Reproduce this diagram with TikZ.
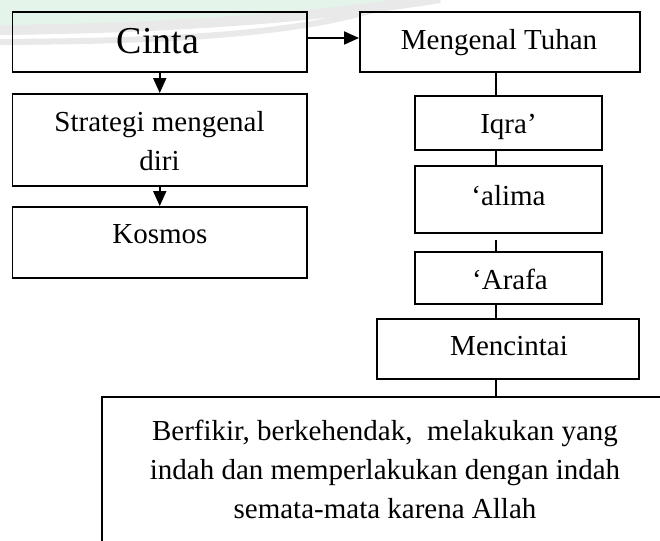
\documentclass[tikz,border=0pt]{standalone}
\usepackage{fontspec}
\setmainfont{Liberation Serif}
\usetikzlibrary{arrows.meta}
\definecolor{markgreen}{RGB}{228,244,234}
\definecolor{markgrey}{RGB}{233,233,233}
\begin{document}
\begin{tikzpicture}[x=1pt,y=-1pt,
  box/.style={draw,line width=1.9pt,rectangle,inner sep=0pt},
  lbl/.style={anchor=base,inner sep=0pt,align=center,font=\fontsize{29}{39}\selectfont},
  biglbl/.style={anchor=base,inner sep=0pt,font=\fontsize{38}{46}\selectfont},
  link/.style={line width=1.8pt},
  flow/.style={line width=1.8pt,-{Triangle[length=15pt,width=13pt]}},
]
\clip (0,0) rectangle (660,540);
\fill[white] (0,0) rectangle (660,540);

% faint logo arcs in the page background
\fill[markgreen] (0,0) -- (435,0) .. controls (340,12) and (200,26) .. (0,27) -- cycle;
\draw[markgrey,line width=10pt] (0,30) .. controls (200,28) and (340,14) .. (440,-2);
\draw[markgrey,line width=6pt] (0,42) .. controls (160,41) and (290,36) .. (380,8);

% left column
\node[box,minimum width=294.5pt,minimum height=60pt] (cinta) at (159.75,42) {};
\node[box,minimum width=294.5pt,minimum height=92pt] (strategi) at (159.75,140) {};
\node[box,minimum width=294.5pt,minimum height=71pt] (kosmos) at (159.75,242.5) {};

% right column
\node[box,minimum width=280pt,minimum height=60pt] (mtuhan) at (500,42) {};
\node[box,minimum width=187pt,minimum height=54pt] (iqra) at (508.5,123) {};
\node[box,minimum width=187pt,minimum height=67pt] (alima) at (508.5,199.5) {};
\node[box,minimum width=187pt,minimum height=52pt] (arafa) at (508.5,278) {};
\node[box,minimum width=262pt,minimum height=60pt] (mencintai) at (508,349) {};

% closing statement
\node[box,minimum width=566pt,minimum height=170pt] (result) at (385,482) {};

% labels (base anchor of a multi-line label sits on its last line)
\node[biglbl] (cintaT) at (158,54) {Cinta};
\node[lbl] (strategiT) at (159.5,170.5) {Strategi mengenal\\diri};
\node[lbl] (kosmosT) at (160,243) {Kosmos};
\node[lbl] (mtuhanT) at (499,50) {Mengenal Tuhan};
\node[lbl] (iqraT) at (508.5,134) {Iqra’};
\node[lbl] (alimaT) at (508.5,205) {‘alima};
\node[lbl] (arafaT) at (510,289) {‘Arafa};
\node[lbl] (mencintaiT) at (509,355) {Mencintai};
\node[lbl] (resultT) at (385,518.5) {Berfikir, berkehendak,\ \ melakukan yang\\indah dan memperlakukan dengan indah\\semata-mata karena Allah};

% connectors
\coordinate (spine) at (496,0);
\draw[flow] ([yshift=4pt]cinta.east) -- ([yshift=4pt]mtuhan.west);
\draw[flow] (cinta.south) -- (strategi.north);
\draw[flow] (strategi.south) -- (kosmos.north);
\draw[link] (mtuhan.south -| spine) -- (iqra.north -| spine);
\draw[link] (iqra.south -| spine) -- (alima.north -| spine);
\draw[link,shorten <=6pt] (alima.south -| spine) -- (arafa.north -| spine);
\draw[link] (arafa.south -| spine) -- (mencintai.north -| spine);
\draw[link] (mencintai.south -| spine) -- (result.north -| spine);
\end{tikzpicture}
\end{document}
